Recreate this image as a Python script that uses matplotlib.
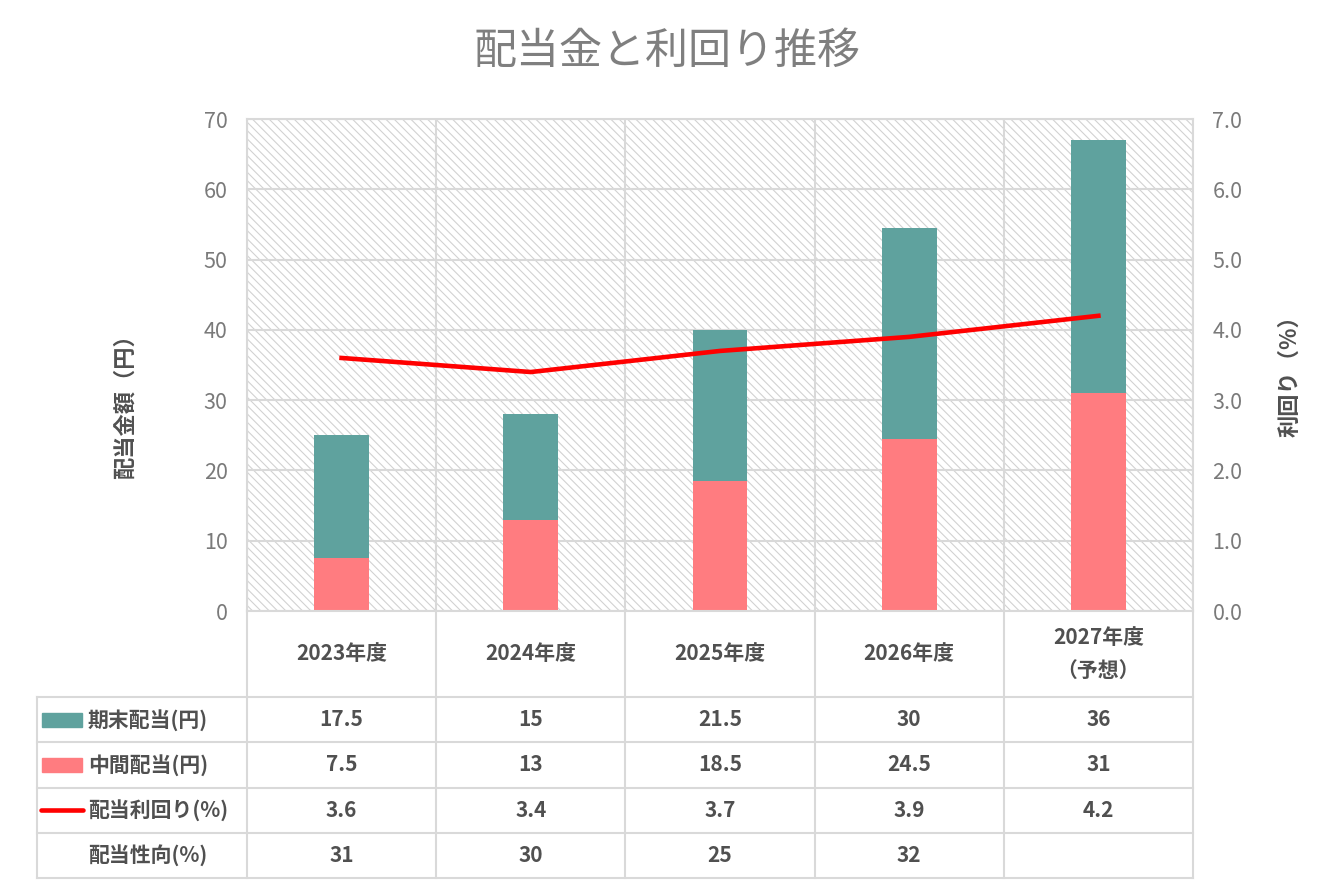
import numpy as np
import matplotlib
matplotlib.use('Agg')
import matplotlib.pyplot as plt
from matplotlib.patches import Rectangle

plt.rcParams['font.family'] = ['Noto Sans CJK JP', 'DejaVu Sans']
plt.rcParams['hatch.linewidth'] = 0.8

# データ
years = ['2023年度', '2024年度', '2025年度', '2026年度', '2027年度\n（予想）']
interim = [7.5, 13, 18.5, 24.5, 31]        # 中間配当
year_end = [17.5, 15, 21.5, 30, 36]        # 期末配当
yield_pct = [3.6, 3.4, 3.7, 3.9, 4.2]      # 配当利回り
payout = [31, 30, 25, 32, None]            # 配当性向
row_labels = ['期末配当(円)', '中間配当(円)', '配当利回り(%)', '配当性向(%)']

teal = '#5FA29E'
pink = '#FF7C80'
red = '#FF0000'
grid_c = '#d9d9d9'
txt_c = '#505050'
tick_c = '#7a7a7a'

W, H = 1334, 889
fig = plt.figure(figsize=(W / 100, H / 100), dpi=100)

# グラフ部分
ax = fig.add_axes([247 / W, (H - 611) / H, (1193 - 247) / W, (611 - 119) / H])
ax.patch.set_facecolor('white')
ax.patch.set_hatch('\\\\\\\\')
ax.patch.set_edgecolor('#d2d2d2')
ax.patch.set_linewidth(0)

x = np.arange(len(years))
ax.bar(x, interim, width=0.29, color=pink, zorder=2)
ax.bar(x, year_end, bottom=interim, width=0.29, color=teal, zorder=2)
ax.set_xlim(-0.5, len(years) - 0.5)
ax.set_ylim(0, 70)
ax.set_yticks(range(0, 71, 10))
ax.set_xticks(np.arange(-0.5, len(years), 1))
ax.set_xticklabels([])
ax.grid(True, color=grid_c, lw=1.5)
ax.set_axisbelow(True)
ax.tick_params(length=0, labelsize=15.5, labelcolor=tick_c, pad=14)
for s in ax.spines.values():
    s.set_color(grid_c)
    s.set_linewidth(1.5)

ax2 = ax.twinx()
ax2.plot(x, yield_pct, color=red, lw=3.3, zorder=5)
ax2.set_ylim(0, 7)
ax2.set_yticks(np.arange(0, 7.01, 1))
ax2.set_yticklabels([f'{v:.1f}' for v in np.arange(0, 7.01, 1)])
ax2.tick_params(length=0, labelsize=15.5, labelcolor=tick_c, pad=14)
for s in ax2.spines.values():
    s.set_visible(False)

fig.text(W / 2 / W, 1 - 52 / H, '配当金と利回り推移', ha='center', va='center',
         fontsize=31, color='#7f7f7f')
fig.text(125 / W, 1 - 401 / H, '配当金額（円）', rotation=90, ha='center', va='center',
         fontsize=16, fontweight='bold', color=txt_c)
fig.text(1290 / W, 1 - 371 / H, '利回り（%）', rotation=90, ha='center', va='center',
         fontsize=16, fontweight='bold', color=txt_c)

# データテーブル
col_w = (1193 - 247) / len(years)
row_h = 45.25
hdr = 86 / row_h
xl = -0.5 - (247 - 37) / col_w
px = 1 / col_w
nrow = len(row_labels)
tab = fig.add_axes([37 / W, (H - 878) / H, (1193 - 37) / W, (878 - 611) / H])
tab.set_xlim(xl, len(years) - 0.5)
tab.set_ylim(0, nrow + hdr)
tab.axis('off')

for r in range(nrow + 1):
    tab.plot([xl, len(years) - 0.5], [r, r], color=grid_c, lw=1.5, clip_on=False)
for c in np.arange(-0.5, len(years), 1):
    tab.plot([c, c], [0, nrow + hdr], color=grid_c, lw=1.5, clip_on=False)
tab.plot([xl, xl], [0, nrow], color=grid_c, lw=1.5, clip_on=False)

for i, name in enumerate(years):
    tab.text(i, nrow + hdr / 2, name, ha='center', va='center', fontsize=15,
             fontweight='bold', color=txt_c, linespacing=1.7)

rows = [year_end, interim, yield_pct, payout]
for r, vals in enumerate(rows):
    yc = nrow - 0.5 - r
    for i, v in enumerate(vals):
        if v is None:
            continue
        tab.text(i, yc, f'{v:g}', ha='center', va='center', fontsize=15,
                 fontweight='bold', color=txt_c)
    tab.text(xl + 51 * px, yc, row_labels[r], ha='left', va='center', fontsize=15,
             fontweight='bold', color=txt_c)

# 凡例キー
kh = 14 / row_h
tab.add_patch(Rectangle((xl + 5 * px, nrow - 0.5 - kh / 2), 40 * px, kh, color=teal))
tab.add_patch(Rectangle((xl + 5 * px, nrow - 1.5 - kh / 2), 40 * px, kh, color=pink))
tab.plot([xl + 4 * px, xl + 46 * px], [nrow - 2.5, nrow - 2.5], color=red, lw=3.3,
         solid_capstyle='round')

fig.savefig('out.png', dpi=100)
